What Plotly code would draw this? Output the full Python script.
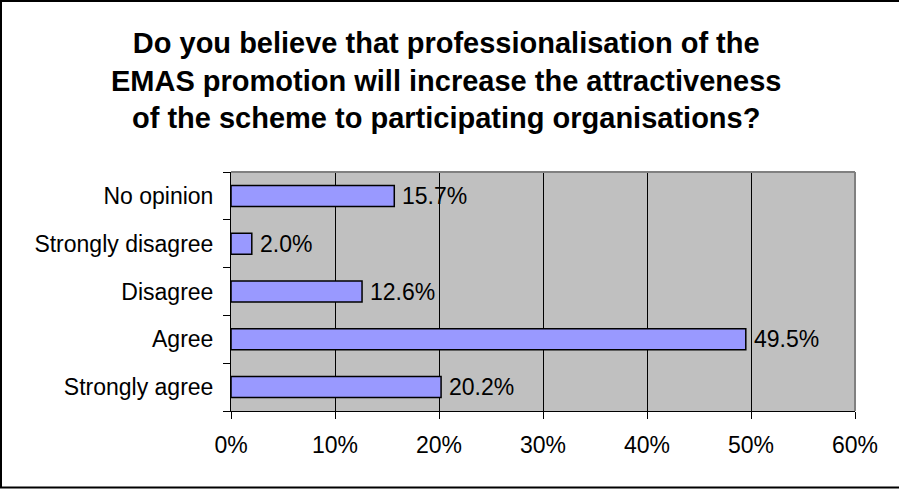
import plotly.graph_objects as go

# Survey responses, listed bottom to top
categories = ["Strongly agree", "Agree", "Disagree", "Strongly disagree", "No opinion"]
shares = [20.2, 49.5, 12.6, 2.0, 15.7]
x_ticks = [0, 10, 20, 30, 40, 50, 60]
x_tick_labels = ["0%", "10%", "20%", "30%", "40%", "50%", "60%"]

title_text = ("Do you believe that professionalisation of the<br>"
              "EMAS promotion will increase the attractiveness<br>"
              "of the scheme to participating organisations?")

FONT = "Arial, Liberation Sans, sans-serif"
W, H = 899, 489
L, R, T, B = 231, 44, 172, 78
pw, ph = W - L - R, H - T - B


def px_x(p):
    return (p - L) / pw


def px_y(p):
    return (H - B - p) / ph


fig = go.Figure()
fig.add_trace(go.Bar(
    x=shares,
    y=categories,
    orientation="h",
    width=0.44,
    marker=dict(color="#9999FF", line=dict(color="black", width=1.5)),
    hoverinfo="skip",
))

# Value labels just past the end of each bar
for c, v in zip(categories, shares):
    fig.add_annotation(
        x=v, y=c, text=f"{v:.1f}%", showarrow=False,
        xanchor="left", yanchor="middle", xshift=6,
        font=dict(family=FONT, size=23, color="black"),
    )

# Three-line bold heading
fig.add_annotation(
    x=px_x(446), y=px_y(80), xref="paper", yref="paper",
    text="<b>" + title_text + "</b>", showarrow=False,
    xanchor="center", yanchor="middle", align="center",
    font=dict(family=FONT, size=29, color="black"),
)

shapes = [
    # plot-area frame on top and right
    dict(type="line", xref="paper", yref="paper", x0=0, x1=1, y0=1, y1=1,
         line=dict(color="#808080", width=2)),
    dict(type="line", xref="paper", yref="paper", x0=1, x1=1, y0=0, y1=1,
         line=dict(color="#808080", width=2)),
    # outer chart border
    dict(type="line", xref="paper", yref="paper", x0=px_x(1), x1=px_x(1),
         y0=px_y(1), y1=px_y(487.5), line=dict(color="black", width=2)),
    dict(type="line", xref="paper", yref="paper", x0=px_x(0), x1=px_x(899),
         y0=px_y(1), y1=px_y(1), line=dict(color="black", width=2)),
    dict(type="line", xref="paper", yref="paper", x0=px_x(0), x1=px_x(899),
         y0=px_y(487.5), y1=px_y(487.5), line=dict(color="black", width=2)),
]

fig.update_layout(
    width=W, height=H,
    margin=dict(l=L, r=R, t=T, b=B, pad=0),
    paper_bgcolor="white",
    plot_bgcolor="#C0C0C0",
    showlegend=False,
    bargap=0.56,
    shapes=shapes,
    font=dict(family=FONT, size=23, color="black"),
    xaxis=dict(
        range=[0, 60],
        tickvals=x_ticks, ticktext=x_tick_labels,
        showgrid=True, gridcolor="black", gridwidth=1,
        zeroline=False,
        showline=True, linecolor="black", linewidth=1,
        ticks="outside", ticklen=7, tickcolor="black",
        ticklabelstandoff=6,
        tickfont=dict(family=FONT, size=23, color="black"),
        fixedrange=True,
    ),
    yaxis=dict(
        categoryorder="array", categoryarray=categories,
        showgrid=False, zeroline=False,
        showline=True, linecolor="black", linewidth=1,
        ticks="outside", ticklen=7, tickcolor="black",
        tickson="boundaries",
        ticklabelstandoff=12,
        tickfont=dict(family=FONT, size=23, color="black"),
        fixedrange=True,
    ),
)

fig.write_html("out.html", config={"displayModeBar": False})
